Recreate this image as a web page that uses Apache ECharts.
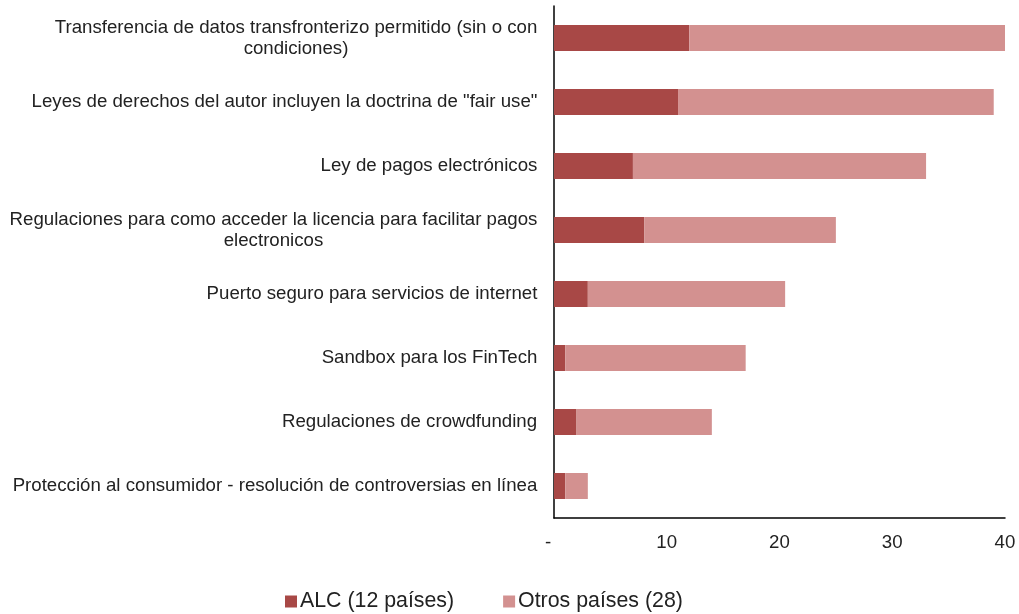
<!DOCTYPE html>
<html>
<head>
<meta charset="utf-8">
<script src="https://cdn.jsdelivr.net/npm/echarts@6/dist/echarts.min.js"></script>
<style>html,body{margin:0;padding:0;background:#fff}#c{width:1019px;height:614px}</style>
</head>
<body>
<div id="c"></div>
<script>
const categories = [
  "Transferencia de datos transfronterizo permitido (sin o con\ncondiciones)",
  "Leyes de derechos del autor incluyen la doctrina de \"fair use\"",
  "Ley de pagos electrónicos",
  "Regulaciones para como acceder la licencia para facilitar pagos\nelectronicos",
  "Puerto seguro para servicios de internet",
  "Sandbox para los FinTech",
  "Regulaciones de crowdfunding",
  "Protección al consumidor - resolución de controversias en línea"
];
const alc = [12, 11, 7, 8, 3, 1, 2, 1];
const otros = [28, 28, 26, 17, 17.5, 16, 12, 2];
const seriesNames = ["ALC (12 países)", "Otros países (28)"];
const xTicks = ["-", "10", "20", "30", "40"];

const FONT = 18.67;
const LFONT = 21.33;
const FAM = '"Liberation Sans", Arial, sans-serif';
const ctx = document.createElement('canvas').getContext('2d');
ctx.font = FONT + 'px ' + FAM;
const rich = {};
categories.forEach((c, i) => {
  const w = Math.max(...c.split('\n').map(l => ctx.measureText(l).width));
  rich['l' + i] = { width: Math.ceil(w) + 1, align: 'center', fontSize: FONT, fontFamily: FAM, color: '#222', lineHeight: 21 };
});

const chart = echarts.init(document.getElementById('c'));
chart.setOption({
  animation: false,
  grid: { left: 554, right: 14, top: 6, bottom: 96, containLabel: false },
  legend: {
    left: 280, top: 586, itemWidth: 12, itemHeight: 12, itemGap: 49,
    icon: 'rect',
    textStyle: { fontSize: LFONT, fontFamily: FAM, color: '#222', padding: [0, 0, 0, -2] },
    data: seriesNames
  },
  xAxis: {
    type: 'value', min: 0, max: 40, interval: 10,
    axisLine: { show: true, lineStyle: { color: '#000', width: 1.5 } },
    axisTick: { show: false },
    splitLine: { show: false },
    axisLabel: { margin: 15, fontSize: FONT, fontFamily: FAM, color: '#222',
      formatter: v => v === 0 ? '{z|' + xTicks[0] + '}' : xTicks[Math.round(v / 10)],
      rich: { z: { fontSize: FONT, fontFamily: FAM, color: '#222', padding: [0, 12, 0, 0] } }
    }
  },
  yAxis: {
    type: 'category', inverse: true, data: categories,
    axisLine: { show: true, lineStyle: { color: '#000', width: 1.5 } },
    axisTick: { show: false },
    axisLabel: {
      margin: 16, fontSize: FONT, fontFamily: FAM, color: '#222', lineHeight: 21,
      formatter: (v, i) => '{l' + i + '|' + v + '}',
      rich: rich
    }
  },
  series: [
    { name: seriesNames[0], type: 'bar', stack: 't', data: alc, barWidth: 26,
      itemStyle: { color: '#A84846' } },
    { name: seriesNames[1], type: 'bar', stack: 't', data: otros, barWidth: 26,
      itemStyle: { color: '#D39190' } }
  ]
});
</script>
</body>
</html>
